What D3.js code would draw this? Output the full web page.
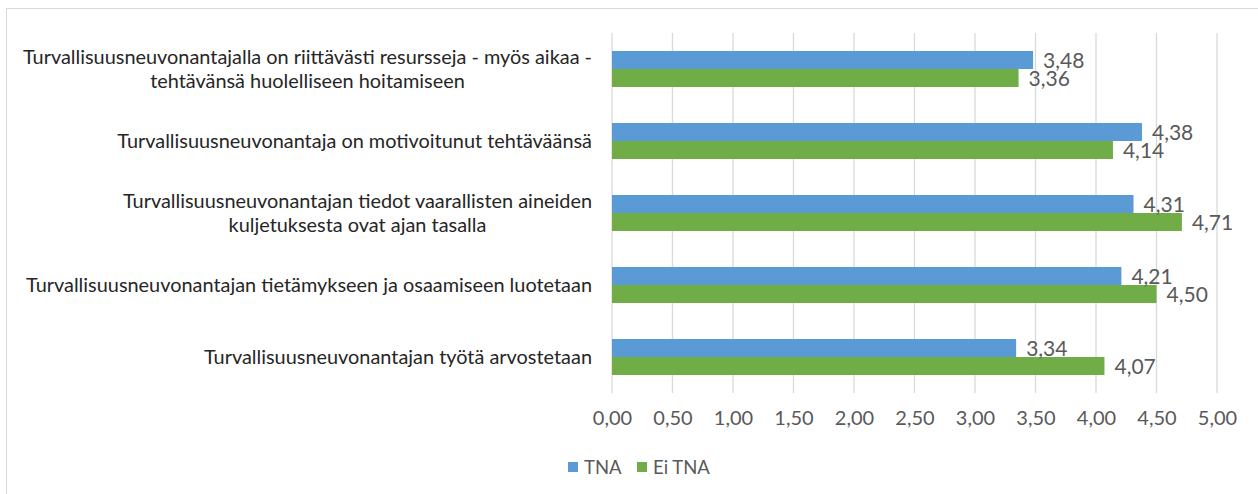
<!DOCTYPE html>
<html>
<head>
<meta charset="utf-8">
<script src="https://cdn.jsdelivr.net/npm/d3@7"></script>
<style>
  html, body { margin: 0; padding: 0; background: #fff; }
  #chart { width: 1258px; height: 494px; }
  text { font-family: Lato, "Open Sans", sans-serif; }
</style>
</head>
<body>
<div id="chart"></div>
<script>
(() => {
  const categories = [
    ["Turvallisuusneuvonantajalla on riittävästi resursseja - myös aikaa -", "tehtävänsä huolelliseen hoitamiseen"],
    ["Turvallisuusneuvonantaja on motivoitunut tehtäväänsä"],
    ["Turvallisuusneuvonantajan tiedot vaarallisten aineiden", "kuljetuksesta ovat ajan tasalla"],
    ["Turvallisuusneuvonantajan tietämykseen ja osaamiseen luotetaan"],
    ["Turvallisuusneuvonantajan työtä arvostetaan"]
  ];
  const seriesNames = ["TNA", "Ei TNA"];
  const tnaValues = [3.48, 4.38, 4.31, 4.21, 3.34];
  const eiTnaValues = [3.36, 4.14, 4.71, 4.50, 4.07];
  const xTicks = [0, 0.5, 1, 1.5, 2, 2.5, 3, 3.5, 4, 4.5, 5];
  const colors = ["#5B9BD5", "#70AD47"];

  const width = 1258, height = 494;
  const fmt = v => d3.format(".2f")(v).replace(".", ",");

  const svg = d3.select("#chart").append("svg")
    .attr("width", width).attr("height", height);

  // chart border
  svg.append("rect")
    .attr("x", 6.5).attr("y", 8.5)
    .attr("width", width).attr("height", height)
    .attr("fill", "none").attr("stroke", "#d9d9d9");

  const plot = { left: 612, right: 1217, top: 33, bottom: 393 };

  const x = d3.scaleLinear().domain([0, 5]).range([plot.left, plot.right]);
  const y = d3.scaleBand().domain(d3.range(categories.length))
    .range([plot.top, plot.bottom]).paddingInner(0.5).paddingOuter(0.25);
  const ySub = d3.scaleBand().domain([0, 1]).range([0, y.bandwidth()]);

  // gridlines
  svg.append("g")
    .selectAll("line").data(xTicks).join("line")
    .attr("x1", d => x(d)).attr("x2", d => x(d))
    .attr("y1", plot.top).attr("y2", plot.bottom)
    .attr("stroke", "#d9d9d9").attr("stroke-width", 1.3);

  // x axis labels
  const xAxis = d3.axisBottom(x).tickValues(xTicks).tickFormat(fmt).tickSize(0).tickPadding(0);
  svg.append("g")
    .attr("transform", `translate(0,${plot.bottom + 18})`)
    .call(xAxis)
    .call(g => g.select(".domain").remove())
    .call(g => g.selectAll("text")
      .attr("fill", "#595959")
      .style("font-size", "20px")
      .style("font-family", "Lato, sans-serif"));

  const rows = categories.map((c, i) => ({ i, vals: [tnaValues[i], eiTnaValues[i]] }));

  const grp = svg.append("g").selectAll("g").data(rows).join("g")
    .attr("transform", d => `translate(0,${y(d.i)})`);

  grp.selectAll("rect").data(d => d.vals.map((v, s) => ({ v, s }))).join("rect")
    .attr("x", x(0))
    .attr("y", d => ySub(d.s))
    .attr("width", d => x(d.v) - x(0))
    .attr("height", ySub.bandwidth())
    .attr("fill", d => colors[d.s]);

  grp.selectAll("text.val").data(d => d.vals.map((v, s) => ({ v, s }))).join("text")
    .attr("class", "val")
    .attr("x", d => x(d.v) + 10)
    .attr("y", d => ySub(d.s) + ySub.bandwidth() / 2)
    .attr("dy", "0.36em")
    .attr("fill", "#595959")
    .style("font-size", "21px")
    .text(d => fmt(d.v));

  // category labels
  const labelX = 592;
  const lineH = 24;
  categories.forEach((lines, i) => {
    const cy = y(i) + y.bandwidth() / 2;
    const t = svg.append("text")
      .attr("fill", "#262626")
      .style("font-size", "19.9px");
    const n = lines.length;
    lines.forEach((ln, k) => {
      t.append("tspan").attr("y", cy + (k - (n - 1) / 2) * lineH).attr("dy", "0.36em").text(ln);
    });
    // right-align the block, center lines within it
    const spans = t.selectAll("tspan").nodes();
    const maxW = d3.max(spans, s => s.getComputedTextLength());
    spans.forEach(s => {
      d3.select(s).attr("x", labelX - maxW / 2).attr("text-anchor", "middle");
    });
  });

  // legend
  const legend = svg.append("g").attr("transform", "translate(568,467)");
  const legendX = [0, 69];
  seriesNames.forEach((name, i) => {
    const g = legend.append("g").attr("transform", `translate(${legendX[i]},0)`);
    g.append("rect").attr("x", 0).attr("y", -5).attr("width", 10).attr("height", 10).attr("fill", colors[i]);
    g.append("text").attr("x", 16).attr("dy", "0.36em")
      .attr("fill", "#595959").style("font-size", "18.5px").text(name);
  });
})();
</script>
</body>
</html>
